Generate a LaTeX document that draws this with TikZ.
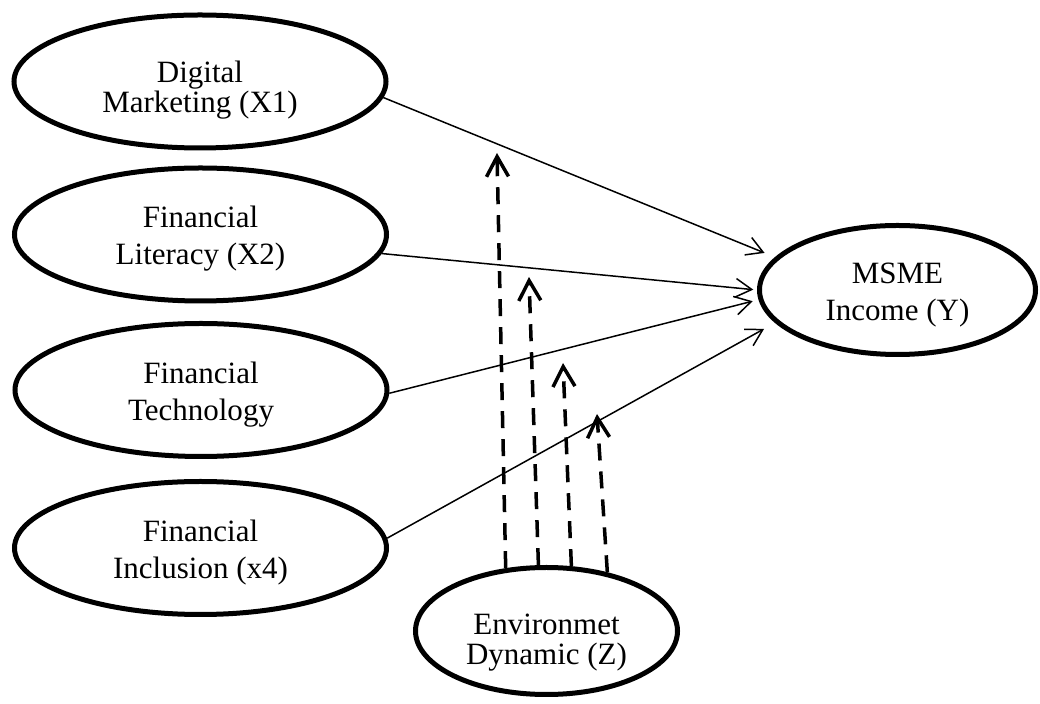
\documentclass[tikz,border=0pt]{standalone}
\usepackage{fontspec}
\setmainfont{Liberation Serif}
\usetikzlibrary{shapes.geometric,arrows.meta}

\begin{document}
\begin{tikzpicture}[x=0.4pt,y=-0.4pt,
    construct/.style={draw,ellipse,line width=2pt,inner sep=0pt,align=center,
        minimum width=148.8pt,minimum height=53.2pt,
        font=\fontsize{12.4}{14.8}\selectfont,text height=27pt,text depth=2.6pt},
    tightskip/.style={font=\fontsize{12.4}{12}\selectfont},
    link/.style={line width=0.6pt,-{Straight Barb[length=6.5pt,width=7.5pt]}},
    moderate/.style={line width=1.4pt,dash pattern=on 6.8pt off 4.4pt,
        -{Straight Barb[length=8pt,width=8.8pt]}}]
    \useasboundingbox (0,0) rectangle (1040,704);

    %Shape: Ellipse [independent]
    \node [construct,tightskip,text height=27.8pt] (x1) at (200,81.5) {Digital\\Marketing (X1)};
    \node [construct] (x2) at (200.5,234.5) {Financial\\Literacy (X2)};
    \node [construct] (x3) at (201,390) {Financial\\Technology};
    \node [construct] (x4) at (200.5,548) {Financial\\Inclusion (x4)};
    %Shape: Ellipse [dependent]
    \node [construct,minimum width=110.4pt,minimum height=51.6pt] (y) at (897.5,290) {MSME\\Income (Y)};
    %Shape: Ellipse [moderator]
    \node [construct,tightskip,text height=29.8pt,minimum width=104.8pt,minimum height=50.8pt] (z) at (546.5,631) {Environmet\\Dynamic (Z)};

    %Straight Lines [direct effects]
    \draw [link,shorten >=4.5pt] (x1.-5) -- (y.165);
    \draw [link,shorten >=1.5pt] (x2.-6) -- (y.180);
    \draw [link,shorten >=2.4pt] (x3.-1.5) -- (y.184);
    \draw [link,shorten >=5pt] (x4.3.4) -- (y.195.7);

    %Dashed Lines [moderation]
    \coordinate (m1) at (497,153);
    \coordinate (m2) at (529,277);
    \coordinate (m3) at (563,363);
    \coordinate (m4) at (597,414);
    \draw [moderate] (z.123.8) -- (m1);
    \draw [moderate] (z.97.6) -- (m2);
    \draw [moderate] (z.69.4) -- (m3);
    \draw [moderate] (z.44.8) -- (m4);

\end{tikzpicture}
\end{document}
